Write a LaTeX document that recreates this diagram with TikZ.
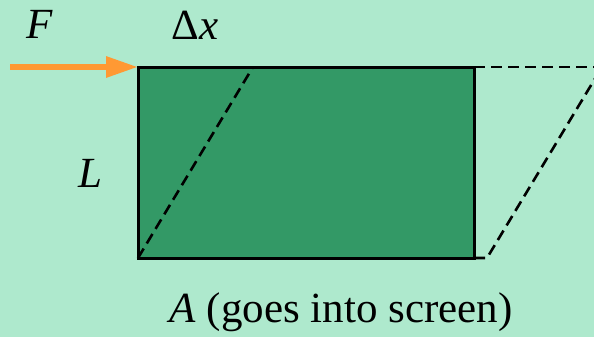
\documentclass[tikz,border=0pt]{standalone}
\usepackage{fontspec}
\setmainfont{Liberation Serif}
\usepackage{xcolor}
\definecolor{PageBg}{HTML}{AEE9CD}
\definecolor{BlockFill}{HTML}{339966}
\definecolor{ForceOrange}{HTML}{FF9933}
\usetikzlibrary{arrows.meta}
\tikzset{
  blockedge/.style={
    draw=black,
    fill=BlockFill,
    line width=1.5pt
  },
  shearline/.style={
    draw=black,
    dashed,
    dash pattern=on 5.5pt off 3pt,
    line width=1.3pt
  },
  forcearrow/.style={
    draw=ForceOrange,
    line width=3pt,
    -{Triangle[length=16pt,width=10pt]}
  },
  symlabel/.style={
    font=\fontsize{21.5}{26}\selectfont,
    inner sep=0pt
  }
}

\begin{document}
\begin{tikzpicture}[x=0.5pt,y=-0.5pt]
  \fill[PageBg] (0,0) rectangle (594,337);
  \clip (0,0) rectangle (594,337);
  \coordinate (tl) at (138,67);
  \coordinate (tr) at (474,67);
  \coordinate (br) at (474,258);
  \coordinate (bl) at (138,258);
  \coordinate (stl) at (253,67);
  \coordinate (str) at (602,67);
  \coordinate (sbr) at (487,258);
  \coordinate (fstart) at (10,67);
  \draw[blockedge] (tl) rectangle (br);
  \draw[shearline] (bl) -- (stl);
  \draw[shearline] (tr) -- (str);
  \draw[shearline] (br) -- (sbr) -- (str);
  \draw[forcearrow] (fstart) -- (tl);
  \node[symlabel] (force) at (40,24) {\textit{F}};
  \node[symlabel] (shift) at (195,25) {Δ\textit{x}};
  \node[symlabel] (height) at (90,173) {\textit{L}};
  \node[symlabel] (area) at (341,312) {\textit{A} (goes into screen)};
\end{tikzpicture}
\end{document}
